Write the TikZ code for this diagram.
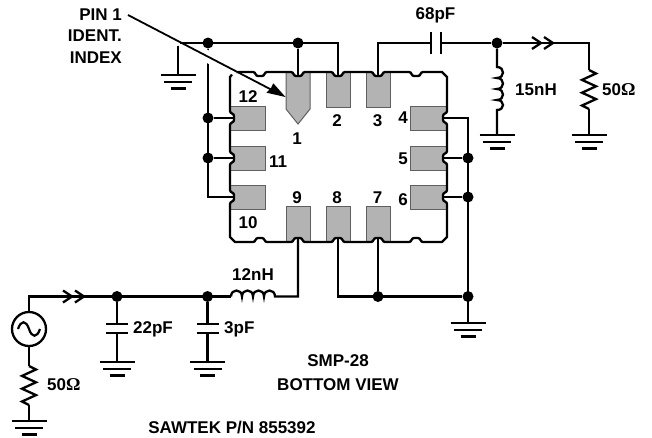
\documentclass[tikz,border=0pt]{standalone}
\usepackage{fontspec}
\usetikzlibrary{calc}
\setmainfont{Liberation Sans}
\newfontfamily\omegafont{Liberation Serif}
\newcommand{\Ohm}{{\omegafont\fontsize{18}{20}\selectfont Ω}}
\definecolor{padgrey}{HTML}{B3B3B3}
\definecolor{padedge}{HTML}{5F5F5F}
\tikzset{
  wire/.style={line width=2.3pt,line join=miter},
  dotj/.style={circle,fill=black,inner sep=0pt,minimum size=11pt},
  pad/.style={fill=padgrey,draw=padedge,line width=1pt},
  lab/.style={font=\bfseries\fontsize{17}{20}\selectfont,inner sep=0pt,align=center},
}
% notches of the package outline
\newcommand{\nT}[1]{-- (#1-7,72) .. controls (#1-4,72) and (#1-5,76) .. (#1-2,76) -- (#1+2,76) .. controls (#1+5,76) and (#1+4,72) .. (#1+7,72)}
\newcommand{\nB}[1]{-- (#1+7,242) .. controls (#1+4,242) and (#1+5,238) .. (#1+2,238) -- (#1-2,238) .. controls (#1-5,238) and (#1-4,242) .. (#1-7,242)}
\newcommand{\nL}[1]{-- (230,#1+7) .. controls (230,#1+4) and (234,#1+5) .. (234,#1+2) -- (234,#1-2) .. controls (234,#1-5) and (230,#1-4) .. (230,#1-7)}
\newcommand{\nR}[1]{-- (447,#1-7) .. controls (447,#1-4) and (443,#1-5) .. (443,#1-2) -- (443,#1+2) .. controls (443,#1+5) and (447,#1+4) .. (447,#1+7)}
\newcommand{\pkgpath}{(234,72) \nT{260} \nT{298} \nT{338} \nT{378} \nT{416} -- (442,72) -- (447,77) \nR{118} \nR{158} \nR{197} -- (447,237) -- (442,242) \nB{416} \nB{378} \nB{338} \nB{298} \nB{260} -- (235,242) -- (230,237) \nL{197} \nL{158} \nL{118} -- (230,77) -- cycle}
\newcommand{\gnd}[1]{%
  \draw[line width=2.4pt] ([xshift=-17.5pt]#1) -- ([xshift=17.5pt]#1);
  \draw[line width=2.4pt] ([shift={(-14,6.7)}]#1) -- ([shift={(14,6.7)}]#1);
  \draw[line width=2.4pt] ([shift={(-7.5,13.4)}]#1) -- ([shift={(7.5,13.4)}]#1);
}
\newcommand{\chev}[1]{% two open chevrons ending at #1
  \draw[wire] ([shift={(-21,-6)}]#1) -- ([shift={(-12,0)}]#1) -- ([shift={(-21,6)}]#1);
  \draw[wire] ([shift={(-9,-6)}]#1) -- ([shift={(0,0)}]#1) -- ([shift={(-9,6)}]#1);
}
\newcommand{\zig}[1]{% vertical resistor starting at #1, length 39
  \draw[wire] (#1) -- ++(7,3.5) -- ++(-14,6.4) -- ++(14,6.4) -- ++(-14,6.4) -- ++(14,6.4) -- ++(-14,6.4) -- ++(7,3.5);
}
\begin{document}
\begin{tikzpicture}[x=1pt,y=-1pt]
\useasboundingbox (0,0) rectangle (652,437);
\fill[white] (0,0) rectangle (652,437);

% junctions and wire ends
\coordinate (gtop) at (178,75);
\coordinate (gtopw) at (178,45.5);
\coordinate (wstart) at (180,43);
\node[dotj] (jA) at (208,43) {};
\node[dotj] (jB) at (298,43) {};
\coordinate (p2t) at (338,43);
\coordinate (p3t) at (378,43);
\node[dotj] (j11) at (208,158) {};
\node[dotj] (j12) at (208,118) {};
\coordinate (j10) at (208,197);
\coordinate (pin1w) at (298,76);
\coordinate (pin2w) at (338,76);
\coordinate (pin3w) at (378,76);
\coordinate (pin10w) at (234,197);
\coordinate (pin11w) at (234,158);
\coordinate (pin12w) at (234,118);
\coordinate (pin4w) at (443,118);
\coordinate (pin5w) at (443,158);
\coordinate (pin6w) at (443,197);
\coordinate (pin7w) at (378,238);
\coordinate (pin8w) at (338,238);
\coordinate (pin9w) at (298,238);
\coordinate (r4) at (468,118);
\node[dotj] (j5) at (468,158) {};
\node[dotj] (j6) at (468,197) {};
\node[dotj] (jG) at (468,296.5) {};
\node[dotj] (j7) at (378,296.5) {};
\coordinate (b8) at (338,296.5);
\coordinate (g1) at (468,323);
\coordinate (capL) at (431,43);
\coordinate (capR) at (441,43);
\node[dotj] (jO) at (497,43) {};
\coordinate (ltop) at (497,67);
\coordinate (lbot) at (497,110);
\coordinate (g2) at (497,135);
\coordinate (rc) at (589,43);
\coordinate (rtop) at (589,70);
\coordinate (rbot) at (589,109);
\coordinate (g3) at (589,135);
\coordinate (ch1) at (553,43);
\coordinate (b9) at (298,296.5);
\coordinate (l2r) at (275,296.5);
\coordinate (l2l) at (231,296.5);
\node[dotj] (j22) at (117,296.5) {};
\node[dotj] (j3) at (207.5,296.5) {};
\coordinate (srcT) at (29,296.5);
\coordinate (ch2) at (84,296.5);
\node[circle,draw,line width=2.3pt,minimum size=34pt,inner sep=0pt] (src) at (29,329) {};
\coordinate (r2t) at (29,366);
\coordinate (r2b) at (29,405);
\coordinate (g4) at (29,421);
\coordinate (c1a) at (117,324);
\coordinate (c1b) at (117,333);
\coordinate (c2a) at (207.5,324);
\coordinate (c2b) at (207.5,333);
\coordinate (g5) at (117,362);
\coordinate (g6) at (207.5,362);

% pads, clipped by the package outline
\begin{scope}
\clip \pkgpath;
\draw[pad] (286,68) -- (310,68) -- (310,109) -- (298,124) -- (286,109) -- cycle;
\node[pad,minimum width=24pt,minimum height=40pt,inner sep=0pt,anchor=south west] (pad2) at (326,108) {};
\node[pad,minimum width=24pt,minimum height=40pt,inner sep=0pt,anchor=south west] (pad3) at (366,108) {};
\node[pad,minimum width=24pt,minimum height=40pt,inner sep=0pt,anchor=south west] (pad9) at (286,247) {};
\node[pad,minimum width=24pt,minimum height=40pt,inner sep=0pt,anchor=south west] (pad8) at (326,247) {};
\node[pad,minimum width=24pt,minimum height=40pt,inner sep=0pt,anchor=south west] (pad7) at (366,247) {};
\node[pad,minimum width=40pt,minimum height=24pt,inner sep=0pt,anchor=south west] (pad12) at (225,131) {};
\node[pad,minimum width=40pt,minimum height=24pt,inner sep=0pt,anchor=south west] (pad11) at (225,171) {};
\node[pad,minimum width=40pt,minimum height=24pt,inner sep=0pt,anchor=south west] (pad10) at (225,210) {};
\node[pad,minimum width=42pt,minimum height=24pt,inner sep=0pt,anchor=south west] (pad4) at (410,131) {};
\node[pad,minimum width=42pt,minimum height=24pt,inner sep=0pt,anchor=south west] (pad5) at (410,171) {};
\node[pad,minimum width=42pt,minimum height=24pt,inner sep=0pt,anchor=south west] (pad6) at (410,210) {};
\end{scope}
\draw[wire] \pkgpath;

% wires, top and left
\draw[wire] (wstart) -- (p2t) -- (pin2w);
\draw[wire] (gtopw) -- (gtop);
\draw[wire] (jB) -- (pin1w);
\draw[wire] (jA) -- (j10) -- (pin10w);
\draw[wire] (j11) -- (pin11w);
\draw[wire] (j12) -- (pin12w);
\gnd{gtop}
% output
\draw[wire] (pin3w) -- (p3t) -- (capL);
\draw[line width=2.4pt] (431,32) -- (431,54);
\draw[line width=2.4pt] (441,32) -- (441,54);
\draw[wire] (capR) -- (jO) -- (rc) -- (rtop);
\chev{ch1}
\zig{rtop}
\draw[wire] (rbot) -- (g3);
\gnd{g3}
\draw[wire] (jO) -- (ltop) .. controls +(8,0) and (505,78) .. (497,78) .. controls +(8,0) and (505,89) .. (497,89) .. controls +(8,0) and (505,100) .. (497,100) .. controls +(8,0) and (505,110) .. (lbot) -- (g2);
\gnd{g2}
% right
\draw[wire] (pin4w) -- (r4) -- (g1);
\draw[wire] (j5) -- (pin5w);
\draw[wire] (j6) -- (pin6w);
\gnd{g1}
\draw[wire] (pin8w) -- (b8) -- (jG);
\draw[wire] (pin7w) -- (j7);
% input
\draw[wire] (src) -- (srcT) -- (l2l);
\draw[wire] (l2l) .. controls +(0,-8) and (242,288.5) .. (242,296.5) .. controls +(0,-8) and (253,288.5) .. (253,296.5) .. controls +(0,-8) and (264,288.5) .. (264,296.5) .. controls +(0,-8) and (275,288.5) .. (l2r) -- (b9) -- (pin9w);
\chev{ch2}
\draw[line width=2.2pt] (18,329) .. controls (21,320) and (26,320) .. (29,329) .. controls (32,338) and (37,338) .. (40,329);
\draw[wire] (src) -- (r2t);
\zig{r2t}
\draw[wire] (r2b) -- (g4);
\gnd{g4}
\draw[wire] (j22) -- (c1a);
\draw[wire] (c1b) -- (g5);
\draw[line width=2.4pt] (106,324) -- (128,324);
\draw[line width=2.4pt] (106,333) -- (128,333);
\gnd{g5}
\draw[wire] (j3) -- (c2a);
\draw[wire] (c2b) -- (g6);
\draw[line width=2.4pt] (196.5,324) -- (218.5,324);
\draw[line width=2.4pt] (196.5,333) -- (218.5,333);
\gnd{g6}

% pin 1 leader
\coordinate (lead0) at (128,15);
\coordinate (lead1) at (285.5,97);
\draw[white,line width=12pt] (196,50.5) -- (226,66.2);
\draw[white,line width=9pt] (226,66.2) -- (237,71.9);
\draw[line width=1.8pt] (lead0) -- (271,89.5);
\fill (lead1) -- (266.5,92.7) -- (271,88) -- (273.3,83.3) -- cycle;

% labels
\node[lab,anchor=east] (t1) at (122,15) {PIN 1};
\node[lab,anchor=east] (t2) at (122,36) {IDENT.};
\node[lab,anchor=east] (t3) at (122,58) {INDEX};
\node[lab] (n1) at (297,139) {1};
\node[lab] (n2) at (337,121) {2};
\node[lab] (n3) at (377.5,121) {3};
\node[lab] (n4) at (403,118) {4};
\node[lab] (n5) at (403,159) {5};
\node[lab] (n6) at (403,200) {6};
\node[lab] (n7) at (377.5,198) {7};
\node[lab] (n8) at (337,198) {8};
\node[lab] (n9) at (297,198) {9};
\node[lab] (n10) at (248,223) {10};
\node[lab] (n11) at (278,162) {11};
\node[lab] (n12) at (248,97) {12};
\node[lab] (v68) at (435.5,15) {68pF};
\node[lab] (v15) at (536,90) {15nH};
\node[lab,anchor=west] (v50a) at (602,90) {50\Ohm};
\node[lab] (v12) at (253,275) {12nH};
\node[lab,anchor=west] (v22) at (133,329) {22pF};
\node[lab,anchor=west] (v3) at (224,329) {3pF};
\node[lab,anchor=west] (v50b) at (47,385) {50\Ohm};
\node[lab] (tS) at (338,361) {SMP-28};
\node[lab] (tB) at (338,385) {BOTTOM VIEW};
\node[lab] (tP) at (232,427) {SAWTEK P/N 855392};
\end{tikzpicture}
\end{document}
